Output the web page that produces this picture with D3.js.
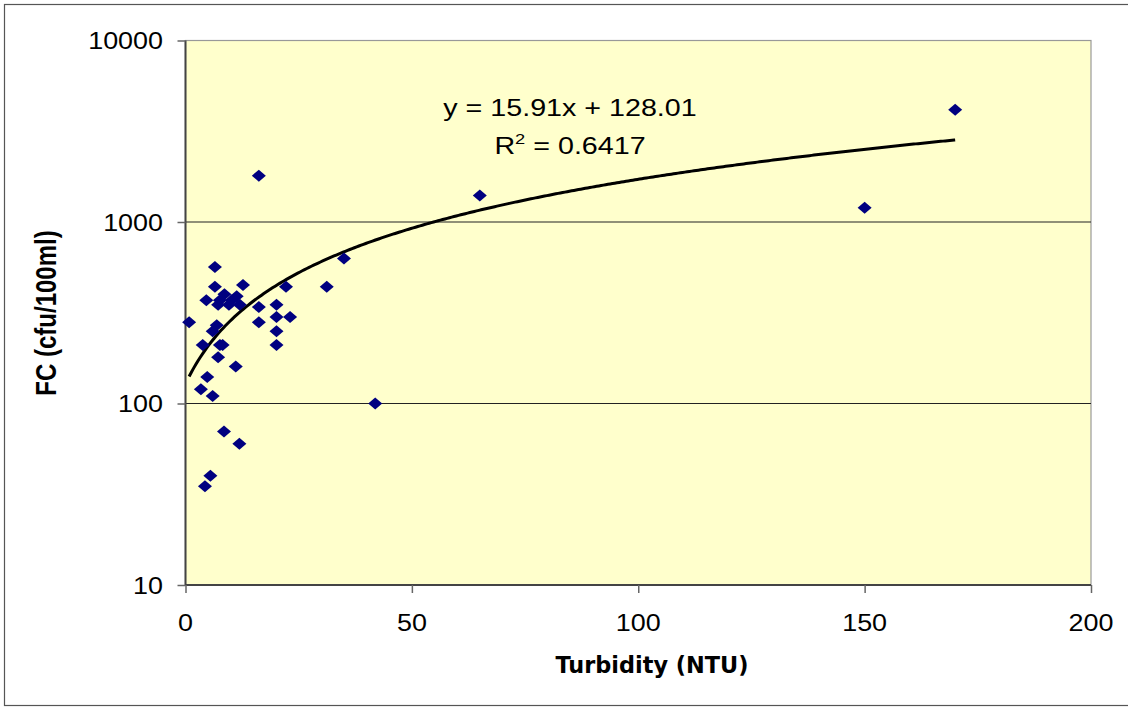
<!DOCTYPE html>
<html lang="en">
<head>
<meta charset="UTF-8">
<title>FC vs Turbidity</title>
<style>
  body { margin: 0; background: #fff; }
  svg { display: block; }
</style>
</head>
<body>
<svg id="chart" width="1128" height="707"></svg>
<script src="https://d3js.org/d3.v7.min.js"></script>
<script>

// turbidity (NTU) and faecal coliform (cfu/100ml)
let turbidity = [0.8, 3.4, 3.8, 4.3, 4.6, 4.8, 5.5, 6.0, 6.0, 6.5, 6.5, 6.9, 7.2, 7.2, 7.6, 7.6,
    8.2, 8.5, 8.6, 9.6, 10.2, 11.1, 11.3, 11.9, 12.0, 12.7, 16.2, 16.2, 16.2, 20.1, 20.1,
    20.1, 20.1, 22.2, 23.1, 31.2, 35.0, 41.9, 65, 150, 170];
let fc = [280, 120, 210, 35, 370, 140, 40, 110, 250, 565, 440, 270, 180, 350, 210, 370,
    210, 70, 400, 350, 370, 160, 390, 60, 350, 450, 1800, 340, 280, 350, 300,
    250, 210, 440, 300, 440, 630, 100, 1400, 1200, 4150];

let xTicks = [0, 50, 100, 150, 200];
let yTicks = [10, 100, 1000, 10000];

// linear trendline from the chart
let slope = 15.91, intercept = 128.01;
let eqText = "y = 15.91x + 128.01";
let r2Text = "0.6417";

let svg = d3.select("#chart");
let plotL = 185.5, plotR = 1091, plotT = 40.5, plotB = 585;
let stretch = 1.17; // text in the original is a bit wide

let x = d3.scaleLinear().domain([0, 200]).range([plotL, plotR]);
let y = d3.scaleLog().domain([10, 10000]).range([plotB, plotT]);

// outer border
svg.append("rect")
    .attr("x", 4.5).attr("y", 4.5)
    .attr("width", 1130).attr("height", 701)
    .attr("fill", "none").attr("stroke", "#555").attr("stroke-width", 1.2);

// plot area
svg.append("rect")
    .attr("x", plotL).attr("y", plotT)
    .attr("width", plotR - plotL).attr("height", plotB - plotT)
    .attr("fill", "#FFFFCC").attr("stroke", "#999").attr("stroke-width", 1.2);

// gridlines
svg.append("g")
    .selectAll("line")
    .data([100, 1000])
    .enter()
    .append("line")
    .attr("x1", plotL).attr("x2", plotR)
    .attr("y1", d => y(d)).attr("y2", d => y(d))
    .attr("stroke", "#222").attr("stroke-width", 1.2);

// axes
let yAxis = svg.append("g")
    .attr("transform", "translate(" + plotL + ",0)")
    .call(d3.axisLeft(y).tickValues(yTicks).tickSize(8).tickFormat(""));
let xAxis = svg.append("g")
    .attr("transform", "translate(0," + plotB + ")")
    .call(d3.axisBottom(x).tickValues(xTicks).tickSize(8).tickFormat(""));
[yAxis, xAxis].forEach(a => {
    a.select(".domain").attr("stroke", "#444").attr("stroke-width", 2);
    a.selectAll(".tick line").attr("stroke", "#666").attr("stroke-width", 1.5);
});
// recut the domains so the outer tick stubs don't show
yAxis.select(".domain").attr("d", "M0," + plotT + "V" + plotB);
xAxis.select(".domain").attr("d", "M" + plotL + ",0H" + plotR);

// tick labels
svg.append("g")
    .selectAll("g")
    .data(yTicks)
    .enter()
    .append("g")
    .attr("transform", d => "translate(163," + (y(d) + 8.5) + ") scale(" + stretch + ",1)")
    .append("text")
    .attr("text-anchor", "end")
    .style("font-family", "'Liberation Sans', Arial, sans-serif")
    .style("font-size", "23px")
    .text(d => d);

svg.append("g")
    .selectAll("g")
    .data(xTicks)
    .enter()
    .append("g")
    .attr("transform", d => "translate(" + x(d) + ",630.5) scale(" + stretch + ",1)")
    .append("text")
    .attr("text-anchor", "middle")
    .style("font-family", "'Liberation Sans', Arial, sans-serif")
    .style("font-size", "23px")
    .text(d => d);

// axis titles
svg.append("text")
    .attr("x", 652).attr("y", 673)
    .attr("text-anchor", "middle")
    .attr("textLength", 193).attr("lengthAdjust", "spacingAndGlyphs")
    .style("font-family", "'DejaVu Sans', Verdana, sans-serif")
    .style("font-weight", "bold")
    .style("font-size", "23px")
    .text("Turbidity (NTU)");

svg.append("g")
    .attr("transform", "translate(56,313) scale(1.22,1) rotate(-90)")
    .append("text")
    .attr("text-anchor", "middle")
    .style("font-family", "'Liberation Sans', Arial, sans-serif")
    .style("font-weight", "bold")
    .style("font-size", "24px")
    .text("FC (cfu/100ml)");

// trendline (linear fit drawn on the log axis)
let xs = d3.extent(turbidity);
let trend = d3.range(xs[0], xs[1] + 0.01, 0.5).concat([xs[1]]);
svg.append("path")
    .datum(trend)
    .attr("fill", "none")
    .attr("stroke", "#000")
    .attr("stroke-width", 3)
    .attr("d", d3.line().x(d => x(d)).y(d => y(slope * d + intercept)));

// points
let pts = turbidity.map((t, i) => ({t: t, fc: fc[i]}));
svg.append("g")
    .selectAll("path")
    .data(pts)
    .enter()
    .append("path")
    .attr("d", "M0,-6L7,0L0,6L-7,0Z")
    .attr("transform", d => "translate(" + x(d.t) + "," + y(d.fc) + ")")
    .attr("fill", "#000080");

// equation label
let eq = svg.append("g")
    .attr("transform", "translate(570,0) scale(1.22,1)")
    .style("font-family", "'Liberation Sans', Arial, sans-serif")
    .style("font-size", "23.5px");
eq.append("text")
    .attr("y", 116.5)
    .attr("text-anchor", "middle")
    .text(eqText);
let r2 = eq.append("text")
    .attr("y", 154)
    .attr("text-anchor", "middle");
r2.append("tspan").text("R");
r2.append("tspan").attr("dy", -10).style("font-size", "15px").text("2");
r2.append("tspan").attr("dy", 10).text(" = " + r2Text);

</script>
</body>
</html>
